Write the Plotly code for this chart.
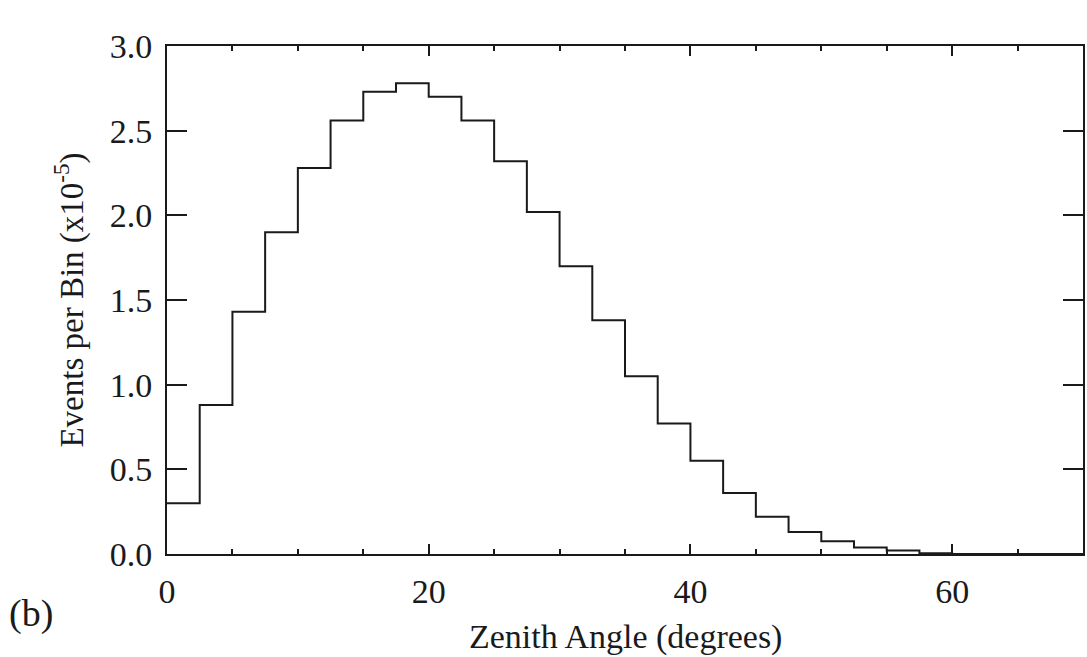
import plotly.graph_objects as go

# Zenith-angle histogram: 2.5-degree bins from 0 to 70 degrees
bin_left = [0.0, 2.5, 5.0, 7.5, 10.0, 12.5, 15.0, 17.5, 20.0, 22.5,
            25.0, 27.5, 30.0, 32.5, 35.0, 37.5, 40.0, 42.5, 45.0, 47.5,
            50.0, 52.5, 55.0, 57.5, 60.0, 62.5, 65.0, 67.5]
bin_right_end = 70.0
events = [0.30, 0.88, 1.43, 1.90, 2.28, 2.56, 2.73, 2.78, 2.70, 2.56,
          2.32, 2.02, 1.70, 1.38, 1.05, 0.77, 0.55, 0.36, 0.22, 0.13,
          0.076, 0.038, 0.021, 0.005, 0.0, 0.0, 0.0, 0.0]

x_ticks = [0, 20, 40, 60]
y_ticks = [0.0, 0.5, 1.0, 1.5, 2.0, 2.5, 3.0]

FONT = "Liberation Serif, Times New Roman, serif"
INK = "#1a1a1a"

# step outline: each bin drawn as a flat segment, closed at the last edge
step_x = bin_left + [bin_right_end]
step_y = events + [events[-1]]

fig = go.Figure()
fig.add_trace(go.Scatter(
    x=step_x, y=step_y, mode="lines",
    line=dict(shape="hv", color=INK, width=2),
    showlegend=False, hoverinfo="skip",
))

fig.update_xaxes(
    range=[0, 70], tickvals=x_ticks, ticktext=[str(v) for v in x_ticks],
    ticks="inside", ticklen=10, tickwidth=2, tickcolor=INK,
    minor=dict(dtick=5, ticks="inside", ticklen=5, tickwidth=1.5, tickcolor=INK),
    showline=True, linecolor=INK, linewidth=2, mirror="ticks",
    showgrid=False, zeroline=False,
    tickfont=dict(family=FONT, size=34, color=INK),
    ticklabelstandoff=6,
)
fig.update_yaxes(
    range=[0, 3.0], tickvals=y_ticks, tickformat=".1f",
    ticks="inside", ticklen=20, tickwidth=2, tickcolor=INK,
    showline=True, linecolor=INK, linewidth=2, mirror="ticks",
    showgrid=False, zeroline=False,
    tickfont=dict(family=FONT, size=34, color=INK),
    ticklabelstandoff=6,
    title=dict(text="Events per Bin (x10<sup>-5</sup>)",
               font=dict(family=FONT, size=33, color=INK), standoff=16),
)

fig.add_annotation(
    text="Zenith Angle (degrees)", xref="paper", yref="paper",
    x=0.5, y=-0.122, xanchor="center", yanchor="top", showarrow=False,
    font=dict(family=FONT, size=34, color=INK),
)
fig.add_annotation(
    text="(b)", xref="paper", yref="paper",
    x=-0.175, y=-0.07, xanchor="left", yanchor="top", showarrow=False,
    font=dict(family=FONT, size=38, color=INK),
)

fig.update_layout(
    width=1087, height=657,
    margin=dict(l=167, r=2, t=46, b=103),
    paper_bgcolor="white", plot_bgcolor="white",
    font=dict(family=FONT, color=INK),
)

fig.write_html("out.html")
